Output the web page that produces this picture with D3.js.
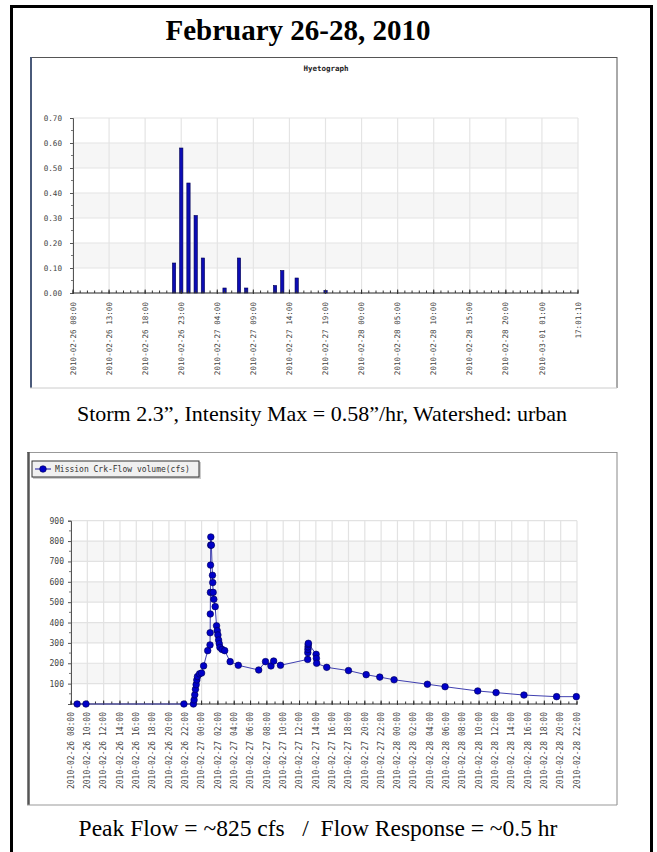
<!DOCTYPE html>
<html><head><meta charset="utf-8">
<script src="https://cdn.jsdelivr.net/npm/d3@7"></script>
<style>body{margin:0;background:#fff} svg{display:block}</style>
</head><body><svg id="c" width="657" height="852"></svg>
<script>
// ---------------- data ----------------
const pageTitle = "February 26-28, 2010";
const hyetoTitle = "Hyetograph";
const stormCaption = "Storm 2.3\u201D, Intensity Max = 0.58\u201D/hr, Watershed: urban";
const flowCaption = "Peak Flow = ~825 cfs   /  Flow Response = ~0.5 hr";

const rainTimes = ["2010-02-26 22:00","2010-02-26 23:00","2010-02-27 00:00","2010-02-27 01:00",
  "2010-02-27 02:00","2010-02-27 05:00","2010-02-27 07:00","2010-02-27 08:00",
  "2010-02-27 12:00","2010-02-27 13:00","2010-02-27 15:00","2010-02-27 19:00"];
const rainValues = [0.12,0.58,0.44,0.31,0.14,0.02,0.14,0.02,0.03,0.09,0.06,0.01];
const rainDomain = ["2010-02-26 08:00","2010-03-01 06:00"];
const rainTickTimes = ["2010-02-26 08:00","2010-02-26 13:00","2010-02-26 18:00","2010-02-26 23:00",
  "2010-02-27 04:00","2010-02-27 09:00","2010-02-27 14:00","2010-02-27 19:00","2010-02-28 00:00",
  "2010-02-28 05:00","2010-02-28 10:00","2010-02-28 15:00","2010-02-28 20:00","2010-03-01 01:00",
  "2010-03-01 06:00"];
const rainTickLabels = ["2010-02-26 08:00","2010-02-26 13:00","2010-02-26 18:00","2010-02-26 23:00",
  "2010-02-27 04:00","2010-02-27 09:00","2010-02-27 14:00","2010-02-27 19:00","2010-02-28 00:00",
  "2010-02-28 05:00","2010-02-28 10:00","2010-02-28 15:00","2010-02-28 20:00","2010-03-01 01:00",
  "17:01:10"];
const rainYTicks = [0,0.1,0.2,0.3,0.4,0.5,0.6,0.7];

const flowSeriesName = "Mission Crk-Flow volume(cfs)";
const flowTimes = ["2010-02-26 08:45","2010-02-26 09:50","2010-02-26 21:50",
  "2010-02-26 23:00","2010-02-26 23:05","2010-02-26 23:10","2010-02-26 23:15","2010-02-26 23:20",
  "2010-02-26 23:25","2010-02-26 23:30","2010-02-26 23:45","2010-02-27 00:00","2010-02-27 00:15",
  "2010-02-27 00:45","2010-02-27 01:02","2010-02-27 01:03","2010-02-27 01:04","2010-02-27 01:05",
  "2010-02-27 01:06","2010-02-27 01:07","2010-02-27 01:08","2010-02-27 01:12","2010-02-27 01:20",
  "2010-02-27 01:22","2010-02-27 01:25","2010-02-27 01:30","2010-02-27 01:40","2010-02-27 01:50",
  "2010-02-27 01:55","2010-02-27 02:00","2010-02-27 02:05","2010-02-27 02:10","2010-02-27 02:15",
  "2010-02-27 02:30","2010-02-27 02:50","2010-02-27 03:30","2010-02-27 04:30","2010-02-27 07:00",
  "2010-02-27 07:50","2010-02-27 08:30","2010-02-27 08:50","2010-02-27 09:40","2010-02-27 13:00",
  "2010-02-27 13:01","2010-02-27 13:02","2010-02-27 13:03","2010-02-27 13:04","2010-02-27 13:05",
  "2010-02-27 14:02","2010-02-27 14:04","2010-02-27 14:06","2010-02-27 15:20","2010-02-27 18:00",
  "2010-02-27 20:10","2010-02-27 21:50","2010-02-27 23:35","2010-02-28 03:40","2010-02-28 05:50",
  "2010-02-28 09:50","2010-02-28 12:05","2010-02-28 15:30","2010-02-28 19:30","2010-02-28 21:55"];
const flowValues = [0,0,0,
  0,20,45,72,95,
  118,135,148,152,187,
  262,290,350,442,548,
  682,780,820,780,632,
  596,548,514,478,384,
  360,339,314,296,278,
  268,262,208,190,167,
  208,187,211,190,219,
  252,268,281,292,298,
  244,224,200,180,164,
  144,132,119,97,85,
  64,56,44,36,36];
const flowDomain = ["2010-02-26 08:00","2010-02-28 22:00"];
const flowYTicks = [100,200,300,400,500,600,700,800,900];

// ---------------- drawing ----------------
const parse = d3.timeParse("%Y-%m-%d %H:%M");
const svg = d3.select("#c");
const MONO = "'DejaVu Sans Mono', monospace";
const SERIF = "'Liberation Serif', 'Times New Roman', serif";

svg.append("path").attr("d","M11.5,852 V6.5 H651.5 V852").attr("fill","none")
  .attr("stroke","#000").attr("stroke-width",3);

svg.append("text").attr("x",298).attr("y",40).attr("text-anchor","middle")
  .attr("font-family",SERIF).attr("font-weight","bold").attr("font-size",29).text(pageTitle);

// ===== Hyetograph =====
{
  const X0=73, X1=578, YT=118, YB=293;
  svg.append("line").attr("x1",30).attr("x2",617).attr("y1",57.5).attr("y2",57.5).attr("stroke","#555").attr("stroke-width",1);
  svg.append("line").attr("x1",31).attr("x2",31).attr("y1",57).attr("y2",388).attr("stroke","#4a5a7a").attr("stroke-width",2);
  svg.append("line").attr("x1",617).attr("x2",617).attr("y1",57).attr("y2",388).attr("stroke","#555").attr("stroke-width",1);
  svg.append("line").attr("x1",30).attr("x2",617).attr("y1",388).attr("y2",388).attr("stroke","#ccc").attr("stroke-width",1);

  svg.append("text").attr("x",326).attr("y",71).attr("text-anchor","middle")
    .attr("font-family",MONO).attr("font-weight","bold").attr("font-size",7.5).attr("fill","#222").text(hyetoTitle);

  const x = d3.scaleTime().domain(rainDomain.map(parse)).range([X0,X1]);
  const y = d3.scaleLinear().domain([0,0.7]).range([YB,YT]);
  const g = svg.append("g");
  for (let i=0;i<rainYTicks.length-1;i++){
    if (i%2===1) g.append("rect").attr("x",X0).attr("width",X1-X0)
      .attr("y",y(rainYTicks[i+1])).attr("height",y(rainYTicks[i])-y(rainYTicks[i+1])).attr("fill","#f6f6f6");
  }
  rainYTicks.forEach(v=>g.append("line").attr("x1",X0).attr("x2",X1).attr("y1",y(v)).attr("y2",y(v))
    .attr("stroke","#e4e4e4").attr("stroke-width",1.2));
  rainTickTimes.forEach(t=>g.append("line").attr("x1",x(parse(t))).attr("x2",x(parse(t))).attr("y1",YT).attr("y2",YB)
    .attr("stroke","#e4e4e4").attr("stroke-width",1.2));
  g.selectAll("rect.bar").data(rainValues).join("rect").attr("class","bar")
    .attr("x",(d,i)=>x(parse(rainTimes[i]))-1.6).attr("width",3.3)
    .attr("y",d=>y(d)).attr("height",d=>YB-y(d))
    .attr("fill","#0c0cb4").attr("stroke","#000050").attr("stroke-width",0.6);
  const ya = d3.axisLeft(y).tickValues(rainYTicks).tickFormat(d3.format(".2f")).tickSize(3).tickPadding(8);
  const yg = svg.append("g").attr("transform",`translate(${X0},0)`).call(ya);
  yg.select(".domain").attr("stroke","#555");
  yg.selectAll(".tick line").attr("stroke","#555");
  yg.selectAll("text").attr("font-family",MONO).attr("font-size",7.6).attr("fill","#444");
  d3.range(0.05,0.7,0.1).forEach(v=>svg.append("line").attr("x1",X0-2).attr("x2",X0).attr("y1",y(v)).attr("y2",y(v)).attr("stroke","#777"));
  svg.append("line").attr("x1",X0).attr("x2",X1).attr("y1",YB).attr("y2",YB).attr("stroke","#333");
  const hours = d3.timeHour.range(x.domain()[0], d3.timeHour.offset(x.domain()[1],1));
  hours.forEach(h=>svg.append("line").attr("x1",x(h)).attr("x2",x(h)).attr("y1",YB-2.5).attr("y2",YB).attr("stroke","#333"));
  rainTickTimes.forEach(t=>svg.append("line").attr("x1",x(parse(t))).attr("x2",x(parse(t))).attr("y1",YB-3.5).attr("y2",YB+1).attr("stroke","#333"));
  rainTickLabels.forEach((lab,i)=>{
    const px = x(parse(rainTickTimes[i]));
    svg.append("text").attr("transform",`translate(${px+2.6},${YB+9}) rotate(-90)`)
      .attr("text-anchor","end").attr("font-family",MONO).attr("font-size",7.6).attr("fill","#444")
      .text(lab);
  });
}

svg.append("text").attr("x",322).attr("y",421).attr("text-anchor","middle")
  .attr("font-family",SERIF).attr("font-size",22).text(stormCaption);

// ===== Flow chart =====
{
  const X0=71, X1=577, YT=520.7, YB=704;
  svg.append("line").attr("x1",27).attr("x2",617).attr("y1",452.5).attr("y2",452.5).attr("stroke","#999");
  svg.append("line").attr("x1",28.5).attr("x2",28.5).attr("y1",452).attr("y2",805).attr("stroke","#555").attr("stroke-width",2.5);
  svg.append("line").attr("x1",617).attr("x2",617).attr("y1",452).attr("y2",805).attr("stroke","#888");
  svg.append("line").attr("x1",27).attr("x2",617).attr("y1",805).attr("y2",805).attr("stroke","#999");

  svg.append("rect").attr("x",33).attr("y",462).attr("width",168).attr("height",17).attr("fill","#ccc");
  svg.append("rect").attr("x",32).attr("y",461).attr("width",167).attr("height",16).attr("fill","#f0f0f0").attr("stroke","#333");
  svg.append("line").attr("x1",35).attr("x2",51).attr("y1",469).attr("y2",469).attr("stroke","#3a3ab0").attr("stroke-width",1.2);
  svg.append("circle").attr("cx",43).attr("cy",469).attr("r",3.3).attr("fill","#0000c8").attr("stroke","#000050").attr("stroke-width",0.6);
  svg.append("text").attr("x",55).attr("y",472).attr("font-family",MONO).attr("font-size",8).attr("fill","#333").text(flowSeriesName);

  const x = d3.scaleTime().domain(flowDomain.map(parse)).range([X0,X1]);
  const y = d3.scaleLinear().domain([0,900]).range([YB,YT]);
  const g = svg.append("g");
  for (let v=100; v<900; v+=200){
    g.append("rect").attr("x",X0).attr("width",X1-X0).attr("y",y(v+100)).attr("height",y(v)-y(v+100)).attr("fill","#f6f6f6");
  }
  const majors = d3.timeHour.every(2).range(x.domain()[0], d3.timeMinute.offset(x.domain()[1],1));
  flowYTicks.forEach(v=>g.append("line").attr("x1",X0).attr("x2",X1).attr("y1",y(v)).attr("y2",y(v)).attr("stroke","#e2e2e2").attr("stroke-width",1.2));
  majors.forEach(t=>g.append("line").attr("x1",x(t)).attr("x2",x(t)).attr("y1",YT).attr("y2",YB).attr("stroke","#e2e2e2").attr("stroke-width",1.2));

  const ya = d3.axisLeft(y).tickValues(flowYTicks).tickFormat(d3.format("d")).tickSize(3).tickPadding(4);
  const yg = svg.append("g").attr("transform",`translate(${X0},0)`).call(ya);
  yg.select(".domain").attr("stroke","#555");
  yg.selectAll(".tick line").attr("stroke","#555");
  yg.selectAll("text").attr("font-family",MONO).attr("font-size",8).attr("fill","#444");
  d3.range(50,900,100).forEach(v=>svg.append("line").attr("x1",X0-2).attr("x2",X0).attr("y1",y(v)).attr("y2",y(v)).attr("stroke","#777"));
  svg.append("line").attr("x1",X0).attr("x2",X1).attr("y1",YB).attr("y2",YB).attr("stroke","#333");
  const hrs = d3.timeHour.range(x.domain()[0], d3.timeMinute.offset(x.domain()[1],1));
  hrs.forEach(h=>svg.append("line").attr("x1",x(h)).attr("x2",x(h)).attr("y1",YB-2.5).attr("y2",YB).attr("stroke","#333"));
  majors.forEach(t=>{
    svg.append("line").attr("x1",x(t)).attr("x2",x(t)).attr("y1",YB-3.5).attr("y2",YB+1).attr("stroke","#333");
    svg.append("text").attr("transform",`translate(${x(t)+2.7},${YB+8}) rotate(-90)`)
      .attr("text-anchor","end").attr("font-family",MONO).attr("font-size",8).attr("fill","#444")
      .text(d3.timeFormat("%Y-%m-%d %H:%M")(t));
  });

  const pts = flowValues.map((v,i)=>({t:parse(flowTimes[i]),v}));
  svg.append("path").datum(pts).attr("fill","none").attr("stroke","#4040b0").attr("stroke-width",1)
    .attr("d",d3.line().x(d=>x(d.t)).y(d=>y(d.v)));
  svg.selectAll("circle.pt").data(pts).join("circle").attr("class","pt")
    .attr("cx",d=>x(d.t)).attr("cy",d=>y(d.v)).attr("r",3.3)
    .attr("fill","#0000c8").attr("stroke","#000050").attr("stroke-width",0.6);
}

svg.append("text").attr("x",318).attr("y",836).attr("text-anchor","middle")
  .attr("font-family",SERIF).attr("font-size",23.5).style("white-space","pre").text(flowCaption);
</script></body></html>
